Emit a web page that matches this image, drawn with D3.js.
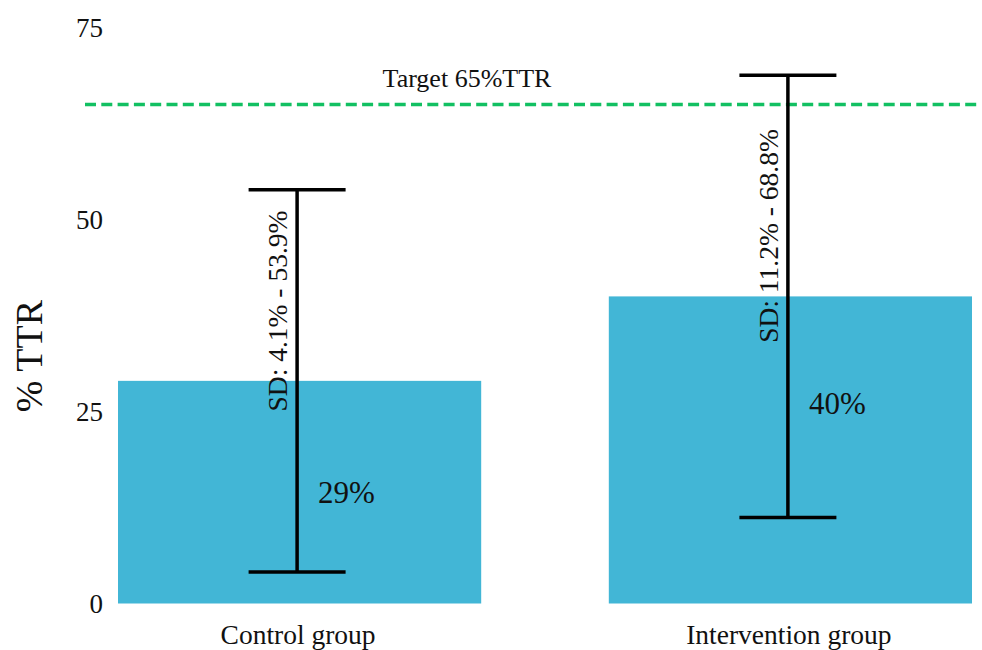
<!DOCTYPE html>
<html>
<head>
<meta charset="utf-8">
<script src="https://cdn.jsdelivr.net/npm/d3@7"></script>
<style>
  body { margin: 0; background: #fff; }
  text { font-family: "Liberation Serif", "Times New Roman", serif; fill: #111; }
</style>
</head>
<body>
<svg id="chart" width="982" height="650"></svg>
<script>
// values
const groups = ["Control group", "Intervention group"];
const means = [29, 40];
const sdLow = [4.1, 11.2];
const sdHigh = [53.9, 68.8];
const meanLabels = ["29%", "40%"];
const sdLabels = ["SD: 4.1% - 53.9%", "SD: 11.2% - 68.8%"];
const yTicks = [0, 25, 50, 75];
const target = 65;
const targetLabel = "Target 65%TTR";

const width = 982, height = 650;
const serif = "Liberation Serif, Times New Roman, serif";
const svg = d3.select("#chart");

const x = d3.scaleBand().domain(groups).range([118, 972]).paddingInner(0.26).paddingOuter(0);
const y = d3.scaleLinear().domain([0, 75]).range([603.5, 27.7]);

// y axis, labels only
const yAxis = svg.append("g")
  .attr("transform", "translate(103,0)")
  .call(d3.axisLeft(y).tickValues(yTicks).tickSize(0).tickPadding(0));
yAxis.select(".domain").remove();
yAxis.selectAll("text")
  .style("font-family", serif)
  .style("font-size", "27px")
  .attr("fill", "#222");

svg.append("text")
  .attr("transform", `translate(42,356) rotate(-90)`)
  .attr("text-anchor", "middle")
  .style("font-family", serif)
  .style("font-size", "38px")
  .text("% TTR");

// bars
svg.selectAll("rect.bar")
  .data(groups)
  .join("rect")
  .attr("class", "bar")
  .attr("x", d => x(d))
  .attr("width", x.bandwidth())
  .attr("y", (d, i) => y(means[i]))
  .attr("height", (d, i) => y(0) - y(means[i]))
  .attr("fill", "#42b6d6");

// target line
svg.append("line")
  .attr("x1", 85).attr("x2", 979)
  .attr("y1", y(target)).attr("y2", y(target))
  .attr("stroke", "#12c062")
  .attr("stroke-width", 3.5)
  .attr("stroke-dasharray", "11,5.3");

svg.append("text")
  .attr("x", 467).attr("y", 87)
  .attr("text-anchor", "middle")
  .style("font-family", serif)
  .style("font-size", "26px")
  .text(targetLabel);

// error bars
const ex = d => x(d) + x.bandwidth() / 2 - 2.5;
const capHalf = 48.5;
const err = svg.selectAll("g.err").data(groups).join("g").attr("class", "err");
err.append("line")
  .attr("x1", ex).attr("x2", ex)
  .attr("y1", (d, i) => y(sdLow[i])).attr("y2", (d, i) => y(sdHigh[i]))
  .attr("stroke", "#000").attr("stroke-width", 3.5);
err.append("line")
  .attr("x1", d => ex(d) - capHalf).attr("x2", d => ex(d) + capHalf)
  .attr("y1", (d, i) => y(sdLow[i])).attr("y2", (d, i) => y(sdLow[i]))
  .attr("stroke", "#000").attr("stroke-width", 3.5);
err.append("line")
  .attr("x1", d => ex(d) - capHalf).attr("x2", d => ex(d) + capHalf)
  .attr("y1", (d, i) => y(sdHigh[i])).attr("y2", (d, i) => y(sdHigh[i]))
  .attr("stroke", "#000").attr("stroke-width", 3.5);

// SD labels, rotated alongside the error bar
const sdLabelY = [311, 236];
err.append("text")
  .attr("transform", (d, i) => `translate(${ex(d) - 10},${sdLabelY[i]}) rotate(-90)`)
  .attr("text-anchor", "middle")
  .style("font-family", serif)
  .style("font-size", "27.5px")
  .text((d, i) => sdLabels[i]);

// mean labels
const meanLabelY = [503, 414];
err.append("text")
  .attr("x", d => ex(d) + 21)
  .attr("y", (d, i) => meanLabelY[i])
  .style("font-family", serif)
  .style("font-size", "31px")
  .text((d, i) => meanLabels[i]);

// category labels
svg.selectAll("text.cat")
  .data(groups)
  .join("text")
  .attr("class", "cat")
  .attr("x", d => x(d) + x.bandwidth() / 2 - 1.5)
  .attr("y", 644)
  .attr("text-anchor", "middle")
  .style("font-family", serif)
  .style("font-size", "27.5px")
  .text(d => d);
</script>
</body>
</html>
